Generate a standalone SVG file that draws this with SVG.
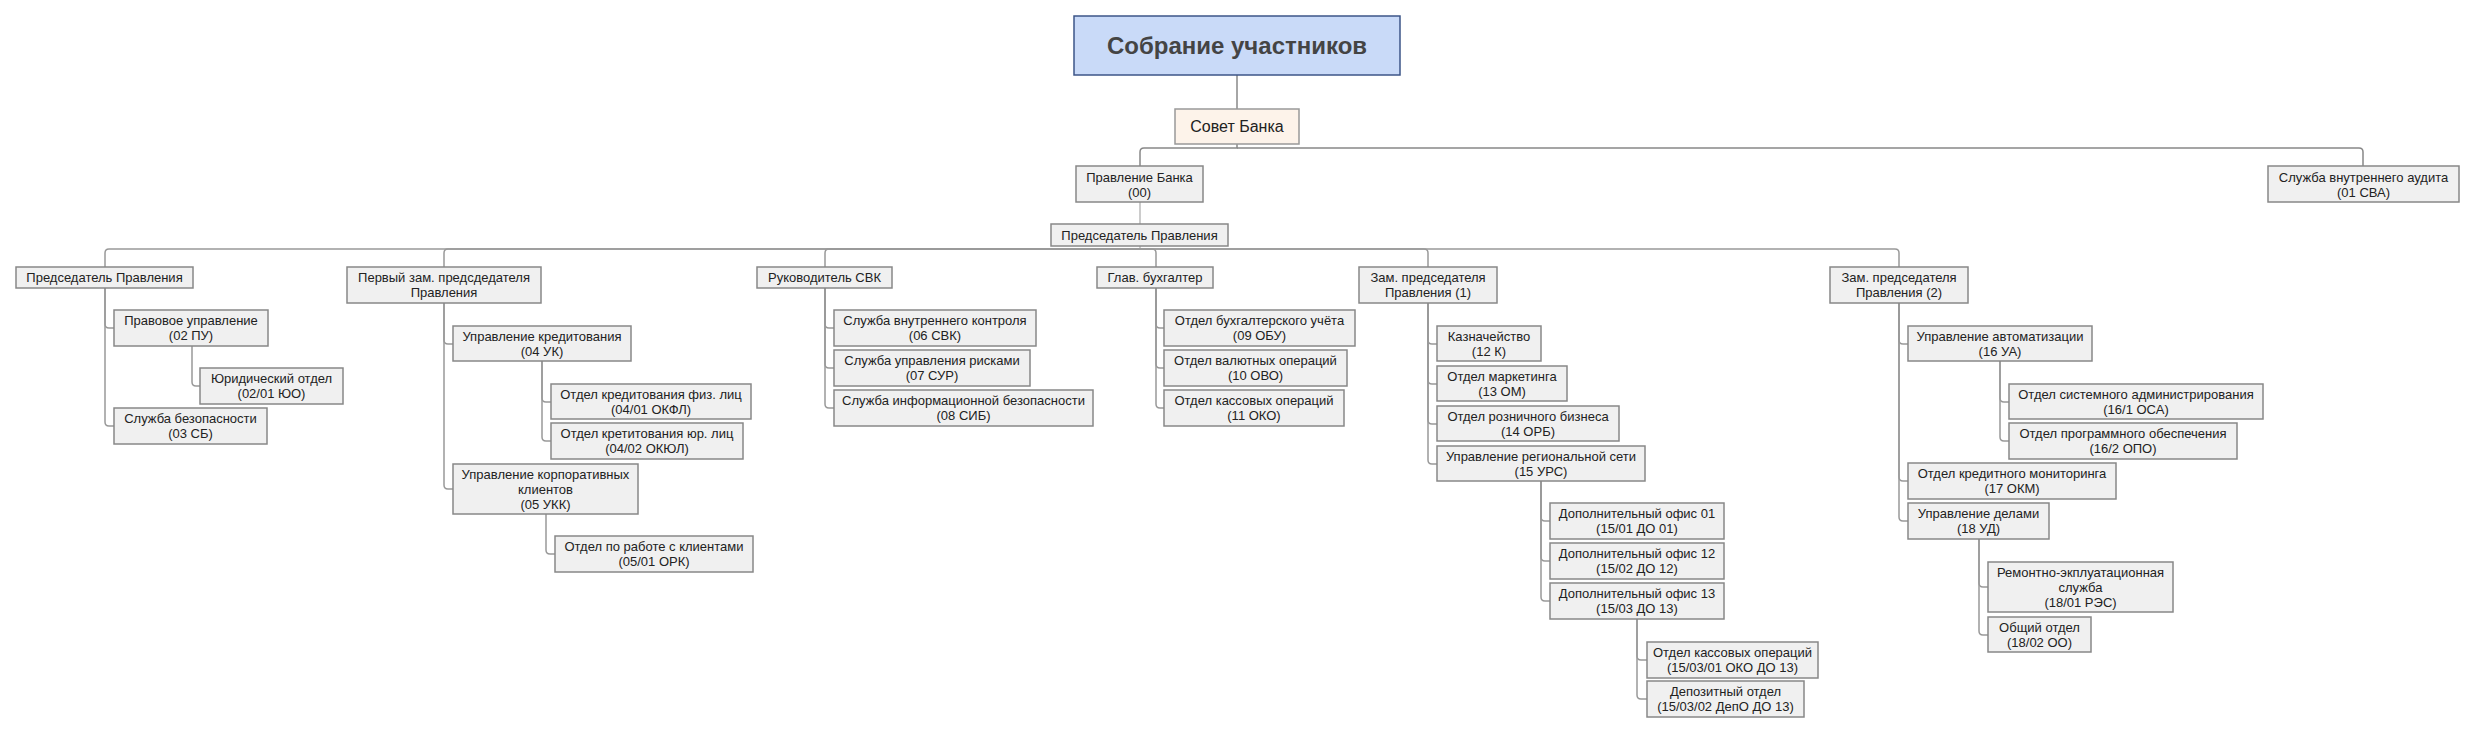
<svg xmlns="http://www.w3.org/2000/svg" width="2475" height="734" viewBox="0 0 2475 734">
<style>
.n rect{fill:#f0f0f0;stroke:#888;stroke-width:1.5}
.n text{font-family:"Liberation Sans",Arial,sans-serif;font-size:13px;fill:#222;text-anchor:middle}
#connectors path{fill:none;stroke:#999;stroke-width:1.5}
#connectors path.t{stroke:#bbb}
#connectors path.d{stroke:#888}
</style>
<rect width="2475" height="734" fill="#fff"/>
<g id="connectors">
<path class="d" d="M1237 75V109"/>
<path class="d" d="M1237 144V148H1144Q1140 148 1140 152V166"/>
<path class="d" d="M1237 148H2359Q2363 148 2363 152V166"/>
<path class="t" d="M1140 202V224"/>
<path class="t" d="M1140 246V249"/>
<path d="M1140 249H109Q105 249 105 253V267"/>
<path d="M1140 249H448Q444 249 444 253V267"/>
<path d="M1140 249H829Q825 249 825 253V267"/>
<path d="M1140 249H1152Q1156 249 1156 253V267"/>
<path d="M1140 249H1424Q1428 249 1428 253V267"/>
<path d="M1140 249H1895Q1899 249 1899 253V267"/>
<path d="M105 288V324Q105 328 109 328H114"/>
<path d="M105 288V422Q105 426 109 426H114"/>
<path d="M192 346V382Q192 386 196 386H200"/>
<path d="M444 303V340Q444 344 448 344H453"/>
<path d="M444 303V485Q444 489 448 489H453"/>
<path d="M542 361V398Q542 402 546 402H551"/>
<path d="M542 361V437Q542 441 546 441H551"/>
<path d="M546 514V550Q546 554 550 554H555"/>
<path d="M825 288V324Q825 328 829 328H834"/>
<path d="M825 288V364Q825 368 829 368H834"/>
<path d="M825 288V404Q825 408 829 408H834"/>
<path d="M1156 288V324Q1156 328 1160 328H1164"/>
<path d="M1156 288V364Q1156 368 1160 368H1164"/>
<path d="M1156 288V404Q1156 408 1160 408H1164"/>
<path d="M1428 303V340Q1428 344 1432 344H1437"/>
<path d="M1428 303V380Q1428 384 1432 384H1437"/>
<path d="M1428 303V420Q1428 424 1432 424H1437"/>
<path d="M1428 303V460Q1428 464 1432 464H1437"/>
<path d="M1541 481V517Q1541 521 1545 521H1550"/>
<path d="M1541 481V557Q1541 561 1545 561H1550"/>
<path d="M1541 481V597Q1541 601 1545 601H1550"/>
<path d="M1637 619V656Q1637 660 1641 660H1647"/>
<path d="M1637 619V695Q1637 699 1641 699H1647"/>
<path d="M1899 303V340Q1899 344 1903 344H1908"/>
<path d="M1899 303V477Q1899 481 1903 481H1908"/>
<path d="M1899 303V517Q1899 521 1903 521H1908"/>
<path d="M2000 361V398Q2000 402 2004 402H2009"/>
<path d="M2000 361V437Q2000 441 2004 441H2009"/>
<path d="M1979 539V583Q1979 587 1983 587H1988"/>
<path d="M1979 539V631Q1979 635 1983 635H1988"/>
</g>
<g id="sobranie">
<rect x="1074" y="16" width="326" height="59" fill="#c9daf8" stroke="#3d5588" stroke-width="1.5"/>
<text x="1237" y="54" font-family="Liberation Sans,Arial,sans-serif" font-size="24" font-weight="bold" fill="#444" text-anchor="middle">Собрание участников</text>
</g>
<g id="sovet">
<rect x="1175" y="109" width="124" height="35" fill="#fdf3ea" stroke="#999" stroke-width="1.5"/>
<text x="1237" y="132" font-family="Liberation Sans,Arial,sans-serif" font-size="16" fill="#222" text-anchor="middle">Совет Банка</text>
</g>
<g id="pravlenie" class="n"><rect x="1076" y="166" width="127" height="36"/><text x="1139.5" y="182">Правление Банка</text><text x="1139.5" y="197">(00)</text></g>
<g id="sva" class="n"><rect x="2268" y="166" width="191" height="36"/><text x="2363.5" y="182">Служба внутреннего аудита</text><text x="2363.5" y="197">(01 СВА)</text></g>
<g id="pred_c" class="n"><rect x="1051" y="224" width="177" height="22"/><text x="1139.5" y="240">Председатель Правления</text></g>
<g id="pred_l" class="n"><rect x="16" y="267" width="177" height="21"/><text x="104.5" y="282">Председатель Правления</text></g>
<g id="perv" class="n"><rect x="347" y="267" width="194" height="36"/><text x="444" y="282">Первый зам. предсдедателя</text><text x="444" y="297">Правления</text></g>
<g id="rsvk" class="n"><rect x="757" y="267" width="135" height="21"/><text x="824.5" y="282">Руководитель СВК</text></g>
<g id="buh" class="n"><rect x="1097" y="267" width="116" height="21"/><text x="1155" y="282">Глав. бухгалтер</text></g>
<g id="zam1" class="n"><rect x="1359" y="267" width="138" height="36"/><text x="1428" y="282">Зам. председателя</text><text x="1428" y="297">Правления (1)</text></g>
<g id="zam2" class="n"><rect x="1830" y="267" width="138" height="36"/><text x="1899" y="282">Зам. председателя</text><text x="1899" y="297">Правления (2)</text></g>
<g id="pu" class="n"><rect x="114" y="310" width="154" height="36"/><text x="191" y="325">Правовое управление</text><text x="191" y="340">(02 ПУ)</text></g>
<g id="yuo" class="n"><rect x="200" y="368" width="143" height="36"/><text x="271.5" y="383">Юридический отдел</text><text x="271.5" y="398">(02/01 ЮО)</text></g>
<g id="sb" class="n"><rect x="114" y="408" width="153" height="36"/><text x="190.5" y="423">Служба безопасности</text><text x="190.5" y="438">(03 СБ)</text></g>
<g id="uk" class="n"><rect x="453" y="326" width="178" height="35"/><text x="542" y="341">Управление кредитования</text><text x="542" y="356">(04 УК)</text></g>
<g id="okfl" class="n"><rect x="551" y="384" width="200" height="35"/><text x="651" y="399">Отдел кредитования физ. лиц</text><text x="651" y="414">(04/01 ОКФЛ)</text></g>
<g id="okyul" class="n"><rect x="551" y="423" width="192" height="36"/><text x="647" y="438">Отдел кретитования юр. лиц</text><text x="647" y="453">(04/02 ОКЮЛ)</text></g>
<g id="ukk" class="n"><rect x="453" y="464" width="185" height="50"/><text x="545.5" y="479">Управление корпоративных</text><text x="545.5" y="494">клиентов</text><text x="545.5" y="509">(05 УКК)</text></g>
<g id="ork" class="n"><rect x="555" y="536" width="198" height="36"/><text x="654" y="551">Отдел по работе с клиентами</text><text x="654" y="566">(05/01 ОРК)</text></g>
<g id="svk06" class="n"><rect x="834" y="310" width="202" height="36"/><text x="935" y="325">Служба внутреннего контроля</text><text x="935" y="340">(06 СВК)</text></g>
<g id="sur" class="n"><rect x="834" y="350" width="196" height="36"/><text x="932" y="365">Служба управления рисками</text><text x="932" y="380">(07 СУР)</text></g>
<g id="sib" class="n"><rect x="834" y="390" width="259" height="36"/><text x="963.5" y="405">Служба информационной безопасности</text><text x="963.5" y="420">(08 СИБ)</text></g>
<g id="obu" class="n"><rect x="1164" y="310" width="191" height="36"/><text x="1259.5" y="325">Отдел бухгалтерского учёта</text><text x="1259.5" y="340">(09 ОБУ)</text></g>
<g id="ovo" class="n"><rect x="1164" y="350" width="183" height="36"/><text x="1255.5" y="365">Отдел валютных операций</text><text x="1255.5" y="380">(10 ОВО)</text></g>
<g id="oko11" class="n"><rect x="1164" y="390" width="180" height="36"/><text x="1254" y="405">Отдел кассовых операций</text><text x="1254" y="420">(11 ОКО)</text></g>
<g id="k12" class="n"><rect x="1437" y="326" width="104" height="35"/><text x="1489" y="341">Казначейство</text><text x="1489" y="356">(12 К)</text></g>
<g id="om" class="n"><rect x="1437" y="366" width="130" height="35"/><text x="1502" y="381">Отдел маркетинга</text><text x="1502" y="396">(13 ОМ)</text></g>
<g id="orb" class="n"><rect x="1437" y="406" width="182" height="35"/><text x="1528" y="421">Отдел розничного бизнеса</text><text x="1528" y="436">(14 ОРБ)</text></g>
<g id="urs" class="n"><rect x="1437" y="446" width="208" height="35"/><text x="1541" y="461">Управление региональной сети</text><text x="1541" y="476">(15 УРС)</text></g>
<g id="do01" class="n"><rect x="1550" y="503" width="174" height="36"/><text x="1637" y="518">Дополнительный офис 01</text><text x="1637" y="533">(15/01 ДО 01)</text></g>
<g id="do12" class="n"><rect x="1550" y="543" width="174" height="36"/><text x="1637" y="558">Дополнительный офис 12</text><text x="1637" y="573">(15/02 ДО 12)</text></g>
<g id="do13" class="n"><rect x="1550" y="583" width="174" height="36"/><text x="1637" y="598">Дополнительный офис 13</text><text x="1637" y="613">(15/03 ДО 13)</text></g>
<g id="oko1503" class="n"><rect x="1647" y="642" width="171" height="36"/><text x="1732.5" y="657">Отдел кассовых операций</text><text x="1732.5" y="672">(15/03/01 ОКО ДО 13)</text></g>
<g id="depo" class="n"><rect x="1647" y="681" width="157" height="36"/><text x="1725.5" y="696">Депозитный отдел</text><text x="1725.5" y="711">(15/03/02 ДепО ДО 13)</text></g>
<g id="ua" class="n"><rect x="1908" y="326" width="184" height="35"/><text x="2000" y="341">Управление автоматизации</text><text x="2000" y="356">(16 УА)</text></g>
<g id="osa" class="n"><rect x="2009" y="384" width="254" height="35"/><text x="2136" y="399">Отдел системного администрирования</text><text x="2136" y="414">(16/1 ОСА)</text></g>
<g id="opo" class="n"><rect x="2009" y="423" width="228" height="36"/><text x="2123" y="438">Отдел программного обеспечения</text><text x="2123" y="453">(16/2 ОПО)</text></g>
<g id="okm" class="n"><rect x="1908" y="463" width="208" height="36"/><text x="2012" y="478">Отдел кредитного мониторинга</text><text x="2012" y="493">(17 ОКМ)</text></g>
<g id="ud" class="n"><rect x="1908" y="503" width="141" height="36"/><text x="1978.5" y="518">Управление делами</text><text x="1978.5" y="533">(18 УД)</text></g>
<g id="res" class="n"><rect x="1988" y="562" width="185" height="50"/><text x="2080.5" y="577">Ремонтно-экплуатационная</text><text x="2080.5" y="592">служба</text><text x="2080.5" y="607">(18/01 РЭС)</text></g>
<g id="oo" class="n"><rect x="1988" y="617" width="103" height="35"/><text x="2039.5" y="632">Общий отдел</text><text x="2039.5" y="647">(18/02 ОО)</text></g>
</svg>
